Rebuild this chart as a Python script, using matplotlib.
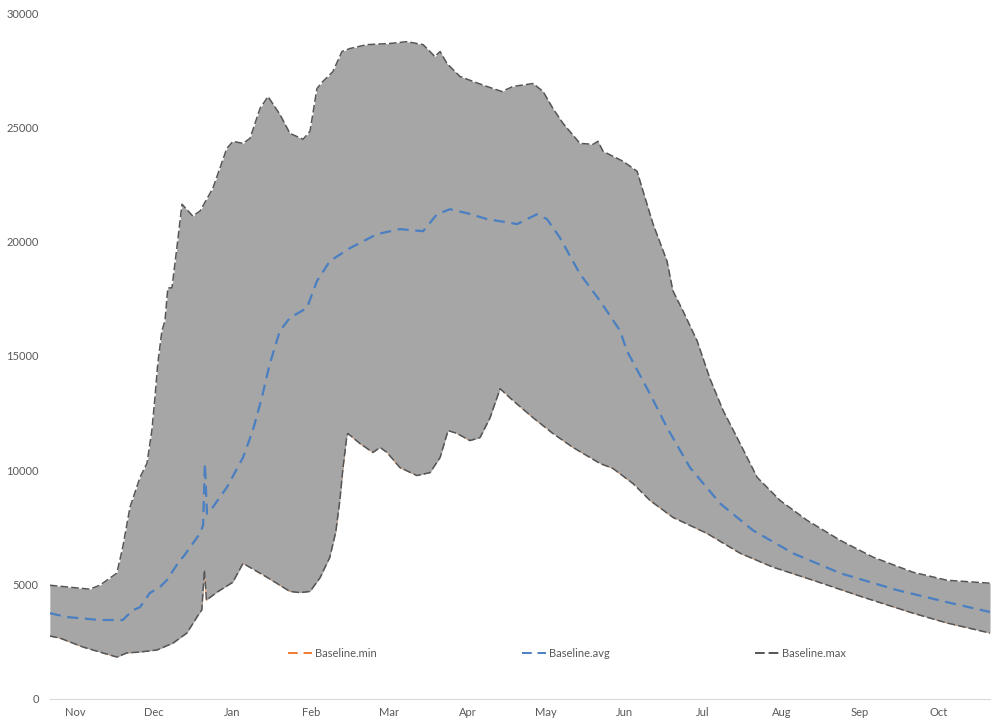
import matplotlib.pyplot as plt
import numpy as np

# jours depuis le 1er novembre
max_x = [0, 15.5, 19.4, 26, 28.3, 31.1, 35, 37.7, 39.6, 40.8, 41.9, 43.5, 44.7, 45.8, 47.4,
         49.3, 51.3, 55.5, 58.3, 63.3, 68.7, 71.1, 75, 77.7, 81.6, 84.7, 89.3, 93.2, 98.3,
         101, 103.7, 106, 109.9, 113.4, 116.5, 123.1, 132, 138.6, 144.9, 149.5, 151.5, 154.2,
         159.2, 164.3, 169.7, 175.5, 179.8, 187.6, 191.5, 195.3, 199.2, 205.8, 210.9, 212.8,
         214.8, 222.5, 228, 230.3, 234.2, 239.6, 241.9, 245.8, 251.3, 256.3, 261.4, 266.8,
         274.6, 283.5, 294, 306.8, 319.6, 335.1, 348.3, 365]
max_y = [4970, 4800, 4970, 5500, 6630, 8380, 9690, 10300, 11740, 13180, 14660, 16100, 16540,
         17980, 17980, 19720, 21640, 21120, 21340, 22340, 24080, 24390, 24300, 24520, 25830,
         26350, 25570, 24740, 24480, 24830, 26700, 27010, 27440, 28320, 28450, 28620, 28670,
         28750, 28620, 28100, 28320, 27790, 27230, 27010, 26790, 26570, 26790, 26920, 26570,
         25830, 25180, 24300, 24260, 24390, 23950, 23520, 23080, 22210, 20770, 19150, 17850,
         16970, 15660, 14000, 12610, 11430, 9690, 8680, 7810, 6940, 6200, 5540, 5190, 5060]

min_x = [0, 3.9, 12.8, 19.4, 26, 29.9, 35, 41.6, 47.8, 53.2, 57.1, 59.0, 60.0, 60.8, 64.9,
         71, 75, 84.3, 93.2, 97.1, 101, 104.9, 108.7, 111, 112.6, 113.8, 115.3, 115.7, 120.4,
         125.4, 128.2, 130.9, 135.9, 142.5, 147.6, 151.5, 154.6, 158.1, 163.1, 167, 170.9,
         174.8, 179.8, 187.6, 195.3, 203.1, 213.6, 218.6, 226.4, 233, 241.9, 255.1, 268,
         280.8, 296.3, 315.7, 335.1, 348.3, 365]
min_y = [2750, 2660, 2270, 2050, 1830, 2010, 2050, 2140, 2440, 2880, 3580, 3900, 5630, 4320,
         4670, 5100, 5930, 5320, 4700, 4650, 4700, 5300, 6200, 7300, 8700, 10100, 11500,
         11610, 11170, 10780, 11000, 10780, 10120, 9770, 9900, 10560, 11740, 11610, 11300,
         11430, 12300, 13570, 13050, 12300, 11610, 11000, 10300, 10080, 9420, 8680, 7940,
         7240, 6370, 5760, 5190, 4450, 3750, 3320, 2880]

avg_x = [0, 6.6, 19.4, 28.3, 32.2, 35, 38.8, 42.7, 45.4, 50.5, 51.7, 58.3, 59.5, 60.2, 61,
         62.1, 68.7, 75, 78.8, 82.3, 85.4, 89.3, 93.2, 99.8, 103.7, 108.7, 116.5, 127, 135.9,
         144.9, 150.3, 155.3, 161.9, 169.7, 181.4, 189.1, 193, 198.1, 205.8, 213.6, 221.4,
         224, 228, 233, 239.6, 248.5, 260.2, 273, 288.5, 306.8, 328.9, 348.3, 365]
avg_y = [3750, 3580, 3450, 3450, 3880, 4010, 4630, 4890, 5190, 6070, 6200, 7240, 7600, 10300,
         8100, 8200, 9250, 10560, 11740, 13180, 14660, 16100, 16670, 17100, 18280, 19150,
         19720, 20330, 20550, 20460, 21200, 21420, 21250, 20990, 20770, 21200, 20990, 20160,
         18590, 17410, 16100, 15230, 14390, 13340, 11870, 10120, 8550, 7370, 6370, 5500,
         4760, 4230, 3800]

mois = ['Nov', 'Dec', 'Jan', 'Feb', 'Mar', 'Apr', 'May', 'Jun', 'Jul', 'Aug', 'Sep', 'Oct']

plt.rcParams['font.family'] = ['Lato', 'DejaVu Sans']

fig = plt.figure(figsize=(9.97, 7.28), dpi=100)
ax = fig.add_axes([0.050, 0.040, 0.943, 0.942])

# grille commune pour remplir entre min et max
xx = np.linspace(0, 365, 2000)
lo = np.interp(xx, min_x, min_y)
hi = np.interp(xx, max_x, max_y)

ax.plot(min_x, min_y, color='#ed7d31', lw=0.8, ls=(0, (5, 3)), zorder=1, label='Baseline.min')
ax.fill_between(xx, lo, hi, color='#a6a6a6', lw=0, zorder=2)
ax.plot(min_x, min_y, color='#555555', lw=1.1, ls=(0, (5, 2)), zorder=3)
ax.plot(avg_x, avg_y, color='#4a7fc1', lw=1.6, ls=(0, (5, 3)), zorder=4, label='Baseline.avg')
ax.plot(max_x, max_y, color='#555555', lw=1.1, ls=(0, (5, 2)), zorder=3, label='Baseline.max')

ax.set_xlim(0, 365)
ax.set_ylim(0, 30000)
ax.set_yticks(np.arange(0, 30001, 5000))
ax.set_xticks(10 + 30.45 * np.arange(len(mois)))
ax.set_xticklabels(mois)

for s in ['top', 'right', 'left']:
    ax.spines[s].set_visible(False)
ax.spines['bottom'].set_color('#d9d9d9')
ax.tick_params(length=0, labelsize=8, colors='#595959', pad=6)
ax.tick_params(axis='y', pad=8)

leg = ax.legend(loc='center', bbox_to_anchor=(0.55, 0.066), ncol=3, frameon=False,
                fontsize=8, columnspacing=13, handlelength=2.2, handletextpad=0.3)
for t in leg.get_texts():
    t.set_color('#595959')
for l in leg.get_lines():
    l.set_linewidth(1.4)

fig.savefig('out.png')
